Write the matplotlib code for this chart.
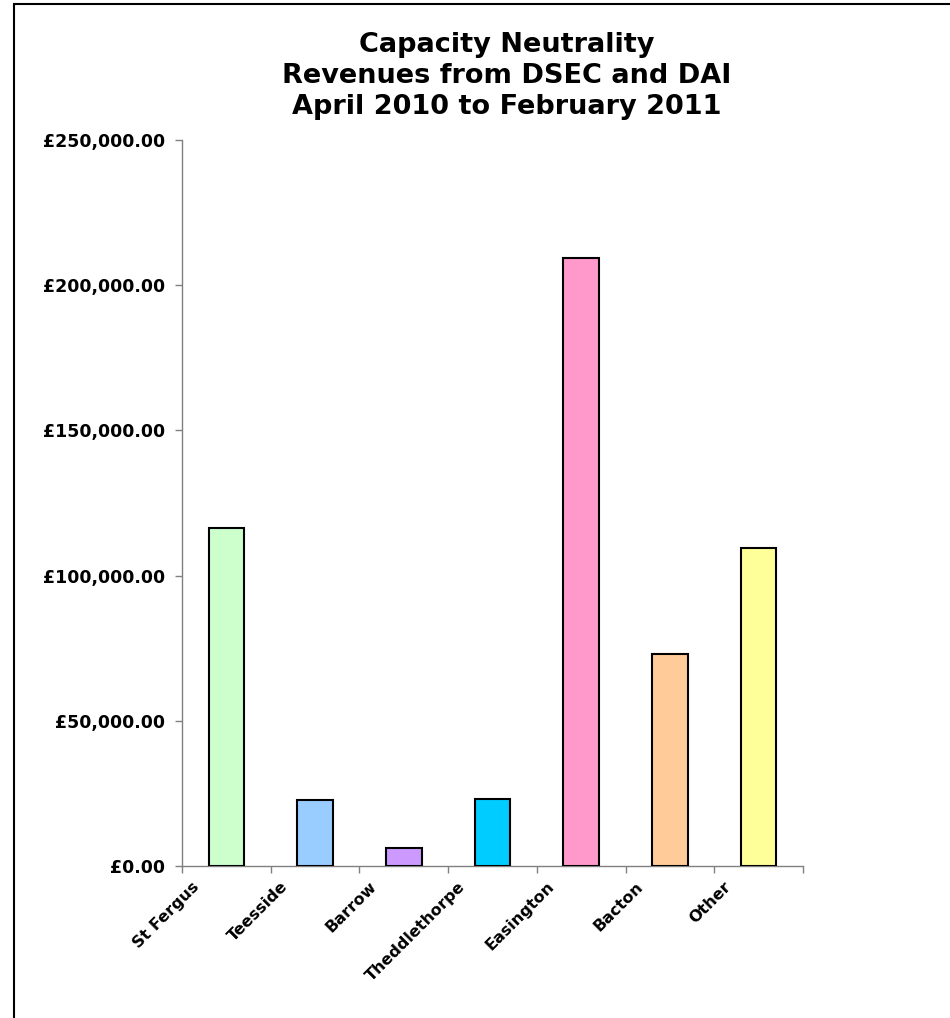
import matplotlib
matplotlib.use("Agg")
import matplotlib.pyplot as plt
import matplotlib.transforms as mtransforms
from matplotlib.patches import Rectangle
from matplotlib.ticker import FixedLocator, FuncFormatter
import numpy as np

# Capacity neutrality revenues by entry point
categories = ["St Fergus", "Teesside", "Barrow", "Theddlethorpe",
              "Easington", "Bacton", "Other"]
revenues = [116400, 22700, 6200, 23100, 209400, 73000, 109500]
bar_colors = ["#CCFFCC", "#99CCFF", "#CC99FF", "#00CCFF",
              "#FF99CC", "#FFCC99", "#FFFF99"]
y_ticks = [0, 50000, 100000, 150000, 200000, 250000]
title_lines = ["Capacity Neutrality",
               "Revenues from DSEC and DAI",
               "April 2010 to February 2011"]

FONT = ["DejaVu Sans"]
W, H = 950, 1018
fig = plt.figure(figsize=(W / 100, H / 100), dpi=100)
fig.patch.set_facecolor("white")

ax_left, ax_right, ax_top, ax_bottom = 182, 803, 140, 866
ax = fig.add_axes([ax_left / W, 1 - ax_bottom / H,
                   (ax_right - ax_left) / W, (ax_bottom - ax_top) / H])

x = np.arange(len(categories))
ax.bar(x, revenues, width=0.4, color=bar_colors, edgecolor="black",
       linewidth=1.5, zorder=3)

ax.set_xlim(-0.5, len(categories) - 0.5)
ax.set_ylim(y_ticks[0], y_ticks[-1])

# spines
for side in ("top", "right"):
    ax.spines[side].set_visible(False)
for side in ("left", "bottom"):
    ax.spines[side].set_color("#808080")
    ax.spines[side].set_linewidth(1.0)

# y axis
ax.yaxis.set_major_locator(FixedLocator(y_ticks))
ax.yaxis.set_major_formatter(FuncFormatter(lambda v, _: f"£{v:,.2f}"))
ax.tick_params(axis="y", which="major", direction="out", length=5,
               width=1.0, color="#808080", pad=7)
for lab in ax.get_yticklabels():
    lab.set_fontfamily(FONT)
    lab.set_fontweight("bold")
    lab.set_fontsize(12.5)

# x axis: tick marks between categories, labels under each bar
ax.set_xticks(x)
ax.set_xticklabels(categories, rotation=45, ha="right", va="top",
                   rotation_mode="anchor", fontweight="bold",
                   fontsize=11.5, family=FONT)
ax.set_xticks(np.arange(-0.5, len(categories)), minor=True)
ax.tick_params(axis="x", which="major", length=0, pad=0)
ax.tick_params(axis="x", which="minor", direction="out", length=5,
               width=1.0, color="#808080")
shift = mtransforms.ScaledTranslation(-35 / 100, -13 / 100,
                                      fig.dpi_scale_trans)
for lab in ax.get_xticklabels():
    lab.set_transform(lab.get_transform() + shift)

# title
fig.text(507 / W, 1 - 32 / H, "\n".join(title_lines), ha="center",
         va="top", fontsize=19.5, fontweight="bold", family=FONT,
         linespacing=1.26)

# chart area border
border = Rectangle((14 / W, -0.1), 2.0, (1 - 4 / H) + 0.1,
                   transform=fig.transFigure, fill=False,
                   edgecolor="black", linewidth=1.5, clip_on=False)
fig.add_artist(border)

fig.savefig("out.png", dpi=100, facecolor="white")
